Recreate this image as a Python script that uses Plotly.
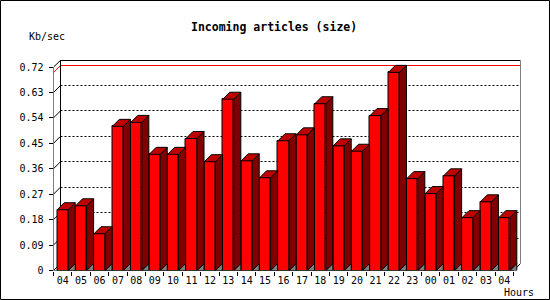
import math
import plotly.graph_objects as go

# ---- data ----
hours = ["04", "05", "06", "07", "08", "09", "10", "11", "12", "13", "14", "15",
         "16", "17", "18", "19", "20", "21", "22", "23", "00", "01", "02", "03", "04"]
kbsec = [0.215, 0.229, 0.130, 0.510, 0.524, 0.411, 0.411, 0.467, 0.385, 0.606,
         0.388, 0.328, 0.459, 0.480, 0.590, 0.441, 0.422, 0.548, 0.701, 0.325,
         0.272, 0.335, 0.187, 0.243, 0.187]
ytick_vals = [0, 0.09, 0.18, 0.27, 0.36, 0.45, 0.54, 0.63, 0.72]
ytick_text = ["0", "0.09", "0.18", "0.27", "0.36", "0.45", "0.54", "0.63", "0.72"]
title = "Incoming articles (size)"
ylabel = "Kb/sec"
xlabel = "Hours"

# ---- geometry (pixels) ----
W, H = 550, 300
X0, CAT = 53.5, 18.4           # front left axis pixel, pixels per category
Y0, YTOPPX = 270.5, 67.0       # pixel of 0 and of ymax (front)
YMAX = ytick_vals[-1]
DEPTH = 7.0                    # 3d depth in px
n = len(kbsec)
PXU = (Y0 - YTOPPX) / YMAX
dx = DEPTH / CAT
dy = DEPTH / PXU
bw = 0.6
xl, xr = -0.5, n - 0.5

xdom = [X0 / W, (X0 + n * CAT + DEPTH) / W]
ydom = [(H - Y0) / H, (H - (YTOPPX - DEPTH)) / H]

RED, TOP, SIDE, GRAY = "#ff0000", "#c00000", "#800000", "#808080"
FONT = "DejaVu Sans Mono"


def sy_(v):
    """snap a y data value to a pixel-centre"""
    px = math.floor(Y0 - v * PXU) + 0.5
    return (Y0 - px) / PXU


def sx_(x):
    px = math.floor(X0 + (x - xl) * CAT) + 0.5
    return xl + (px - X0) / CAT


fig = go.Figure()

# front faces
fig.add_trace(go.Bar(x=list(range(n)), y=kbsec, width=bw,
                     marker=dict(color=RED, line=dict(color="black", width=1)),
                     hoverinfo="skip"))


def polys(builder):
    xs, ys = [], []
    for i, v in enumerate(kbsec):
        px, py = builder(i, v)
        xs += px + [px[0], None]
        ys += py + [py[0], None]
    return xs, ys


# top faces
tx, ty = polys(lambda i, v: ([i - bw / 2, i - bw / 2 + dx, i + bw / 2 + dx, i + bw / 2],
                             [v, v + dy, v + dy, v]))
# side faces
sx, sy = polys(lambda i, v: ([i + bw / 2, i + bw / 2, i + bw / 2 + dx, i + bw / 2 + dx],
                             [0, v, v + dy, dy]))
# floor triangles
gx, gy = polys(lambda i, v: ([i + bw / 2, i + bw / 2 + dx, i + bw / 2 + dx],
                             [0, 0, dy]))
for xs, ys, col in [(gx, gy, GRAY), (sx, sy, SIDE), (tx, ty, TOP)]:
    fig.add_trace(go.Scatter(x=xs, y=ys, mode="lines", fill="toself", fillcolor=col,
                             line=dict(color="black", width=1), hoverinfo="skip"))

shapes = []


def line(x0, y0, x1, y1, color="black", dash="solid", layer="below"):
    shapes.append(dict(type="line", xref="x", yref="y", x0=x0, y0=y0, x1=x1, y1=y1,
                       layer=layer, line=dict(color=color, width=1, dash=dash)))


bl, br = sx_(xl + dx), sx_(xr + dx)
# dotted grid on back wall
for v in ytick_vals[1:-1]:
    line(bl, sy_(v + dy), br, sy_(v + dy), dash="2px,2px")
# max line (red)
vmax = max(kbsec)
line(bl, sy_(vmax + dy), br, sy_(vmax + dy), color=RED)
line(xl, vmax, bl, sy_(vmax + dy), color=RED)
# left wall tick diagonals
for v in ytick_vals[:-1]:
    line(xl, v, bl, v + dy)
# frame of back wall
top = sy_(YMAX + dy)
line(bl, dy, bl, top)
line(bl, top, br, top)
line(br, dy, br, top)
line(xl, YMAX, bl, top)
line(xr, 0, br, dy)
# front axes
line(xl, 0, xl, YMAX, layer="above")
line(xl, 0, xr, 0, layer="above")
# outer image frame
shapes.append(dict(type="rect", xref="paper", yref="paper",
                   x0=0.5 / W, y0=0.5 / H, x1=1 - 0.5 / W, y1=1 - 0.5 / H,
                   line=dict(color="black", width=1), layer="above"))

annotations = [
    dict(text=f"<b>{title}</b>", x=273.5 / W, y=1 - 27 / H, xref="paper", yref="paper",
         showarrow=False, xanchor="center", yanchor="middle",
         font=dict(family=FONT, size=11.5, color="black")),
    dict(text=ylabel, x=47 / W, y=1 - 37 / H, xref="paper", yref="paper",
         showarrow=False, xanchor="center", yanchor="middle",
         font=dict(family=FONT, size=10, color="black")),
    dict(text=xlabel, x=519 / W, y=1 - 292.5 / H, xref="paper", yref="paper",
         showarrow=False, xanchor="center", yanchor="middle",
         font=dict(family=FONT, size=10, color="black")),
]

xrng = [xl, xr + dx]
fig.update_layout(
    template="none", width=W, height=H,
    margin=dict(l=0, r=0, t=0, b=0),
    paper_bgcolor="white", plot_bgcolor="white",
    showlegend=False, bargap=0,
    shapes=shapes, annotations=annotations,
    font=dict(family=FONT, size=10, color="black"),
    xaxis=dict(domain=xdom, range=xrng, tickmode="array",
               tickvals=list(range(n)), ticktext=hours, ticks="",
               ticklabelstandoff=2,
               showgrid=False, zeroline=False, showline=False,
               automargin=False, fixedrange=True,
               tickfont=dict(family=FONT, size=10, color="black")),
    xaxis2=dict(domain=xdom, range=xrng, overlaying="x", anchor="y", side="bottom",
                tickmode="array", tickvals=[k - 0.5 for k in range(n + 1)],
                ticks="outside", ticklen=4, tickcolor="black", tickwidth=1,
                showticklabels=False, showgrid=False, zeroline=False,
                showline=False, automargin=False),
    yaxis=dict(domain=ydom, range=[0, YMAX + dy], tickmode="array",
               tickvals=ytick_vals, ticktext=ytick_text,
               ticks="outside", ticklen=4, tickcolor="black", tickwidth=1,
               ticklabelstandoff=3,
               showgrid=False, zeroline=False, showline=False,
               automargin=False, fixedrange=True,
               tickfont=dict(family=FONT, size=10, color="black")),
)
# dummy trace to activate xaxis2
fig.add_trace(go.Scatter(x=[xl], y=[0], xaxis="x2", mode="markers",
                         marker=dict(opacity=0), hoverinfo="skip"))

fig.write_html("out.html")
